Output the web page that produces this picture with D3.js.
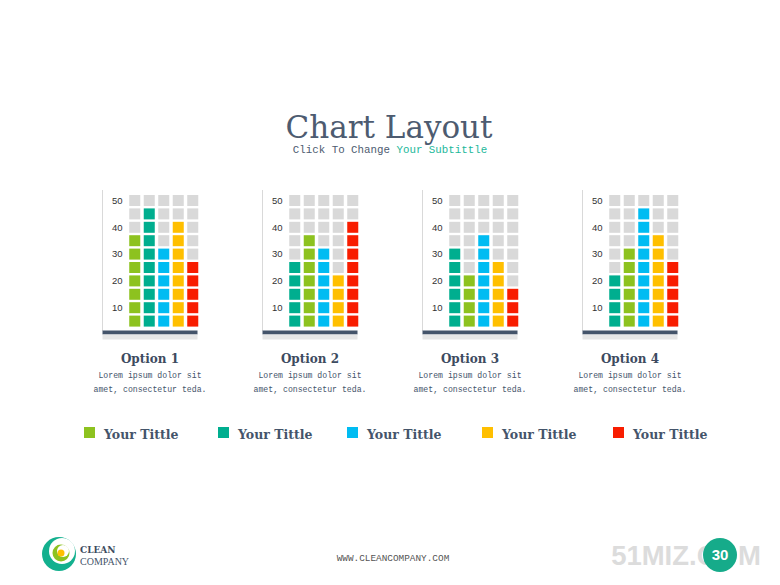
<!DOCTYPE html>
<html><head><meta charset="utf-8">
<script src="https://cdn.jsdelivr.net/npm/d3@7"></script>
<style>html,body{margin:0;padding:0;background:#fff;}svg{display:block;}</style>
</head><body>
<script>
// ---- data ----
const options = ["Option 1", "Option 2", "Option 3", "Option 4"];
const seriesNames = ["Your Tittle", "Your Tittle", "Your Tittle", "Your Tittle", "Your Tittle"];
const seriesColors = ["#8dc21f", "#00ae8f", "#00bcf2", "#ffbf00", "#f81d00"];
// values per series (green, teal, blue, yellow, red) across Option 1..4
const greenValues  = [35, 35, 20, 30];
const tealValues   = [45, 25, 30, 20];
const blueValues   = [30, 30, 35, 45];
const yellowValues = [40, 20, 25, 35];
const redValues    = [25, 40, 15, 25];
const seriesValues = [greenValues, tealValues, blueValues, yellowValues, redValues];
// column order of series inside each option chart
const columnOrder = [[0,1,2,3,4],[1,0,2,3,4],[1,0,2,3,4],[1,0,2,3,4]];
const tickValues = [10, 20, 30, 40, 50];
const cellStep = 5, maxValue = 50;
const loremLines = ["Lorem ipsum dolor sit", "amet, consectetur teda."];

const W = 780, H = 585;
const svg = d3.select("body").append("svg").attr("width", W).attr("height", H);

// title
svg.append("text").attr("x", 389).attr("y", 138).attr("text-anchor", "middle")
  .attr("font-family", "DejaVu Serif").attr("font-size", 31).attr("fill", "#4d5b70").text("Chart Layout");
const sub = svg.append("text").attr("x", 390).attr("y", 153).attr("text-anchor", "middle")
  .attr("font-family", "Liberation Mono").attr("font-size", 10.8).attr("fill", "#4d5b70");
sub.append("tspan").text("Click To Change ");
sub.append("tspan").attr("fill", "#1bb89a").text("Your Subtittle");

const rows = d3.range(1, maxValue / cellStep + 1); // 1..10
const y = d3.scaleBand().domain(rows.slice().reverse()).range([193.8, 327.8]).paddingInner(0.18).paddingOuter(0.09);
const x = d3.scaleBand().domain(d3.range(5)).range([127.5, 200]).paddingInner(0.24).paddingOuter(0.12);

options.forEach((opt, ci) => {
  const g = svg.append("g").attr("transform", `translate(${ci * 160},0)`);
  g.append("line").attr("x1", 102.5).attr("x2", 102.5).attr("y1", 190).attr("y2", 331)
    .attr("stroke", "#d9d9d9").attr("stroke-width", 1);
  columnOrder[ci].forEach((si, col) => {
    const v = seriesValues[si][ci];
    g.selectAll(null).data(rows).enter().append("rect")
      .attr("x", x(col)).attr("y", r => y(r))
      .attr("width", x.bandwidth()).attr("height", y.bandwidth())
      .attr("fill", r => r * cellStep <= v ? seriesColors[si] : "#d9d9d9");
  });
  g.selectAll(null).data(tickValues).enter().append("text")
    .attr("x", 122.5).attr("y", t => y(t / cellStep) + y.bandwidth() / 2)
    .attr("dy", "0.35em").attr("text-anchor", "end")
    .attr("font-family", "Liberation Sans").attr("font-size", 9.5).attr("fill", "#333")
    .text(t => t);
  g.append("rect").attr("x", 102.5).attr("y", 330.5).attr("width", 95).attr("height", 4).attr("fill", "#44546a");
  g.append("rect").attr("x", 102.5).attr("y", 334.5).attr("width", 95).attr("height", 5).attr("fill", "#e6e6e6");
  g.append("text").attr("x", 150).attr("y", 363).attr("text-anchor", "middle")
    .attr("font-family", "DejaVu Serif").attr("font-weight", "bold").attr("font-size", 12)
    .attr("fill", "#3d4b60").text(opt);
  loremLines.forEach((l, li) => {
    g.append("text").attr("x", 150).attr("y", 378 + li * 14).attr("text-anchor", "middle")
      .attr("font-family", "Liberation Mono").attr("font-size", 8.2).attr("fill", "#44546a").text(l);
  });
});

// legend
const legendX = [84, 218, 347, 482, 613];
const lg = svg.selectAll("g.leg").data(seriesNames).enter().append("g").attr("class", "leg")
  .attr("transform", (d, i) => `translate(${legendX[i]},427)`);
lg.append("rect").attr("width", 11).attr("height", 11).attr("fill", (d, i) => seriesColors[i]);
lg.append("text").attr("x", 20).attr("y", 12).attr("font-family", "DejaVu Serif").attr("font-weight", "bold")
  .attr("font-size", 12.5).attr("fill", "#44546a").text(d => d);

// footer logo
const logo = svg.append("g").attr("transform", "translate(59,554)");
logo.append("circle").attr("r", 17).attr("fill", "#13b08e");
logo.append("circle").attr("cx", 3).attr("cy", -3).attr("r", 13).attr("fill", "#fff");
logo.append("circle").attr("cx", 2).attr("cy", -1).attr("r", 8.5).attr("fill", "#8dc21f");
logo.append("circle").attr("cx", 4).attr("cy", -3).attr("r", 6).attr("fill", "#fff");
logo.append("circle").attr("cx", 2).attr("cy", -1).attr("r", 3.5).attr("fill", "#ffbf00");
svg.append("text").attr("x", 80).attr("y", 553).attr("font-family", "DejaVu Serif").attr("font-weight", "bold")
  .attr("font-size", 9).attr("fill", "#3d4b60").text("CLEAN");
svg.append("text").attr("x", 80).attr("y", 565).attr("font-family", "Liberation Serif")
  .attr("font-size", 10).attr("fill", "#44546a").text("COMPANY");
svg.append("text").attr("x", 393).attr("y", 561).attr("text-anchor", "middle").attr("font-family", "Liberation Mono")
  .attr("font-size", 9.4).attr("fill", "#555").text("WWW.CLEANCOMPANY.COM");

// watermark + page number (overlap as in the reference)
svg.append("text").attr("x", 686).attr("y", 565).attr("text-anchor", "middle").attr("font-family", "Liberation Sans")
  .attr("font-weight", "bold").attr("font-size", 27.5).attr("fill", "#dcdcdc").text("51MIZ.COM");
svg.append("circle").attr("cx", 720).attr("cy", 555).attr("r", 17).attr("fill", "#16ab8a");
svg.append("text").attr("x", 720).attr("y", 555).attr("dy", "0.35em").attr("text-anchor", "middle")
  .attr("font-family", "Liberation Sans").attr("font-weight", "bold").attr("font-size", 15).attr("fill", "#fff").text("30");
</script>
</body></html>
